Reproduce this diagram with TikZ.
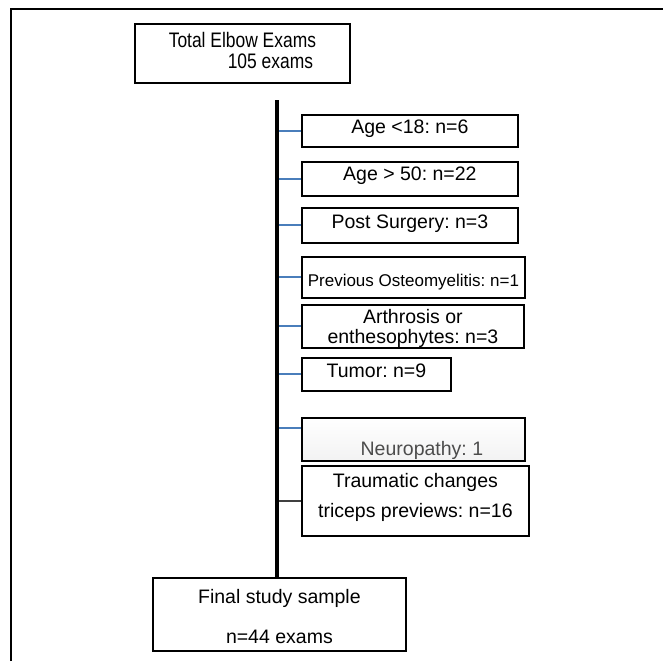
\documentclass[tikz,border=0pt]{standalone}
\usepackage{fontspec}
\setmainfont{Liberation Sans}
\newfontfamily\narrowfont[FakeStretch=0.83]{Liberation Sans}
\frenchspacing
\usetikzlibrary{positioning}
\definecolor{stubblue}{HTML}{4A7EBB}
\tikzset{
  box/.style={draw=black, line width=1.8pt, inner sep=0pt, anchor=north west, align=center},
  txt/.style={font=\fontsize{19.5}{20}\selectfont},
  stub/.style={draw=stubblue, line width=2pt},
  trunk/.style={draw=black, line width=3.5pt},
  frame/.style={draw=black, line width=1.5pt}
}

\begin{document}
\begin{tikzpicture}[x=1pt,y=-1pt]
\useasboundingbox (0,0) rectangle (663,661);
\draw[frame] (11,661) -- (11,9) -- (663,9);
\node[box, minimum width=215pt, text height=45pt, text depth=14pt, font=\narrowfont\fontsize{21}{21}\selectfont] (total) at (134,23) {Total Elbow Exams\\\hspace*{56pt}105 exams};
\node[box, txt, minimum width=216pt, text height=19pt, text depth=13pt] (young) at (301,114) {Age <18: n=6};
\node[box, txt, minimum width=216pt, text height=19pt, text depth=15pt] (old) at (301,161) {Age > 50: n=22};
\node[box, txt, minimum width=216pt, text height=21pt, text depth=14pt] (surgery) at (301,207) {Post Surgery: n=3};
\node[box, minimum width=223pt, text height=30pt, text depth=11pt, font=\fontsize{17}{20}\selectfont] (osteo) at (301,256) {Previous Osteomyelitis: n=1};
\node[box, txt, minimum width=222pt, text height=39pt, text depth=4pt] (arthro) at (301,304) {Arthrosis or\\enthesophytes: n=3};
\node[box, txt, minimum width=149pt, text height=20pt, text depth=13pt] (tumor) at (301,357) {Tumor: n=9};
\node[box, txt, minimum width=223pt, text height=38pt, text depth=5pt, top color=white, bottom color=blue!3!black!5, text=black!70] (neuro) at (301,417) {\hspace*{17pt}Neuropathy: 1};
\node[box, minimum width=227pt, text height=52pt, text depth=18pt, font=\fontsize{19.5}{30}\selectfont] (trauma) at (301,465) {Traumatic changes\\triceps previews: n=16};
\node[box, minimum width=253pt, text height=66pt, text depth=7pt, font=\fontsize{19.5}{40}\selectfont] (final) at (152,577) {Final study sample\\n=44 exams};
% exclusion branches
\coordinate (top) at (277,100);
\coordinate (nstub) at ([yshift=11pt]neuro.west);
\foreach \n in {young,old,surgery,osteo,arthro,tumor}
  \draw[stub] (top |- \n.west) -- (\n.west);
\draw[stub] (top |- nstub) -- (nstub);
\draw[stub, draw=black!75] (top |- trauma.west) -- (trauma.west);
\draw[trunk] (top) -- (top |- final.north);
\end{tikzpicture}
\end{document}
